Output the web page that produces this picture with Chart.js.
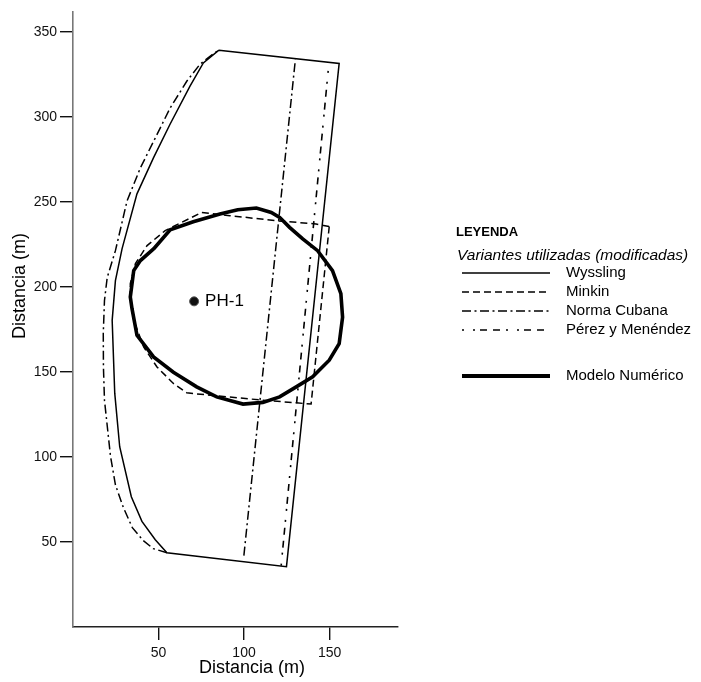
<!DOCTYPE html>
<html>
<head>
<meta charset="utf-8">
<script src="https://cdn.jsdelivr.net/npm/chart.js@4/dist/chart.umd.min.js"></script>
<style>
  html, body { margin: 0; padding: 0; background: #fff; }
  #wrap { width: 701px; height: 682px; position: relative; }
</style>
</head>
<body>
<div id="wrap"><canvas id="zonaChart"></canvas></div>
<script>
// Axis ticks
const xTicks = [50, 100, 150];
const yTicks = [50, 100, 150, 200, 250, 300, 350];

// Wyssling (closed zone)
const wysslingX = [85.3, 76.2, 68.4, 56.8, 47.1, 37.4, 28.7, 24.8, 22.9, 24.4, 27.3, 34.1, 40.3, 48.1, 54.9, 124.8, 155.6, 85.3];
const wysslingY = [339.2, 331.7, 318.1, 295.8, 276.0, 254.7, 222.5, 203.7, 180.3, 137.5, 106.0, 76.6, 62.1, 51.3, 43.7, 35.5, 331.4, 339.2];

// Minkin
const minkinX = [149.8, 139.2, 130.5, 111.0, 84.0, 66.5, 58.7, 49.1, 41.3, 35.5, 33.5, 33.5, 36.5, 43.3, 53.9, 75.2, 91.7, 118.8, 142.1, 149.8];
const minkinY = [235.5, 131.1, 131.8, 133.4, 135.9, 137.7, 143.2, 152.9, 164.7, 180.3, 192.1, 202.0, 213.7, 224.3, 233.1, 243.8, 241.9, 238.9, 237.0, 235.5];

// Norma Cubana: east limit and west curve
const normaX = [99.9, 130.0];
const normaY = [42.0, 333.7];
const normaOesteX = [54.9, 46.9, 41.1, 34.7, 29.5, 24.8, 21.9, 18.4, 17.8, 17.7, 18.4, 20.0, 24.8, 31.6, 39.4, 48.1, 56.8, 66.5, 74.2, 82.0, 84.7];
const normaOesteY = [43.7, 46.1, 50.8, 58.4, 70.1, 83.6, 100.6, 133.4, 152.7, 172.7, 192.0, 205.5, 221.3, 250.6, 270.0, 287.6, 305.2, 320.9, 330.9, 337.0, 338.9];

// Pérez y Menéndez
const perezX = [121.7, 149.2];
const perezY = [36.1, 327.3];

// Modelo Numérico
const modeloX = [47.1, 56.8, 70.3, 85.9, 96.3, 107.2, 115.9, 120.8, 126.6, 134.3, 143.0, 151.7, 156.6, 157.6, 155.6, 149.8, 140.1, 130.5, 120.8, 111.0, 99.4, 84.0, 72.3, 58.7, 47.1, 37.4, 34.5, 33.5, 35.5, 39.4, 47.1];
const modeloY = [222.3, 233.6, 238.3, 242.9, 245.4, 246.4, 243.8, 240.9, 235.0, 228.2, 221.3, 209.6, 196.0, 182.2, 166.6, 156.9, 147.1, 141.2, 135.3, 132.1, 131.1, 135.3, 141.2, 149.8, 158.8, 171.5, 187.2, 194.0, 209.6, 215.5, 222.3];

// Pozo
const pozoX = [70.8];
const pozoY = [191.5];
const pozoLabel = 'PH-1';

const legendItems = [
    { label: 'Wyssling', width: 1.5, dash: [] },
    { label: 'Minkin', width: 1.5, dash: [7, 4] },
    { label: 'Norma Cubana', width: 1.5, dash: [9, 3.5, 2, 3.5] },
    { label: 'Pérez y Menéndez', width: 1.5, dash: [2, 9, 2, 5, 7, 6, 7, 6] },
    { label: 'Modelo Numérico', width: 3.8, dash: [] }
];

const ink = '#000';

function toPoints(xs, ys) {
    return xs.map((x, i) => ({ x: x, y: ys[i] }));
}

function lineSet(label, xs, ys, width, dash) {
    return {
        label: label,
        data: toPoints(xs, ys),
        showLine: true,
        borderColor: ink,
        borderWidth: width,
        borderDash: dash,
        pointRadius: 0,
        tension: 0,
        fill: false
    };
}

// titles, well label and the legend box
const extrasPlugin = {
    id: 'extras',
    afterDraw(chart) {
        const ctx = chart.ctx;
        const xs = chart.scales.x;
        const ys = chart.scales.y;
        ctx.save();
        ctx.fillStyle = ink;

        // axis titles
        ctx.font = '18px Arial, "Liberation Sans", sans-serif';
        ctx.textAlign = 'center';
        ctx.textBaseline = 'middle';
        ctx.fillText('Distancia (m)', 252, 668);
        ctx.save();
        ctx.translate(20, 286);
        ctx.rotate(-Math.PI / 2);
        ctx.fillText('Distancia (m)', 0, 0);
        ctx.restore();

        // well label
        ctx.font = '17px Arial, "Liberation Sans", sans-serif';
        ctx.textAlign = 'left';
        ctx.fillText(pozoLabel, xs.getPixelForValue(pozoX[0]) + 11, ys.getPixelForValue(pozoY[0]));

        // legend
        ctx.font = 'bold 13px Arial, "Liberation Sans", sans-serif';
        ctx.fillText('LEYENDA', 456, 232);
        ctx.font = 'italic 15.5px Arial, "Liberation Sans", sans-serif';
        ctx.fillText('Variantes utilizadas (modificadas)', 457, 256);

        const rows = [273, 292, 311, 330, 376];
        ctx.font = '15px Arial, "Liberation Sans", sans-serif';
        legendItems.forEach((item, i) => {
            const y = rows[i];
            ctx.beginPath();
            ctx.strokeStyle = ink;
            ctx.lineWidth = item.width;
            ctx.setLineDash(item.dash);
            ctx.moveTo(462, y);
            ctx.lineTo(550, y);
            ctx.stroke();
            ctx.setLineDash([]);
            ctx.fillText(item.label, 566, y);
        });
        ctx.restore();
    }
};

const ctx = document.getElementById('zonaChart').getContext('2d');
const zonaChart = new Chart(ctx, {
    type: 'scatter',
    data: {
        datasets: [
            lineSet('Wyssling', wysslingX, wysslingY, 1.5, []),
            lineSet('Minkin', minkinX, minkinY, 1.5, legendItems[1].dash),
            lineSet('Norma Cubana', normaX, normaY, 1.5, legendItems[2].dash),
            lineSet('Norma Cubana (oeste)', normaOesteX, normaOesteY, 1.5, legendItems[2].dash),
            lineSet('Pérez y Menéndez', perezX, perezY, 1.6, legendItems[3].dash),
            lineSet('Modelo Numérico', modeloX, modeloY, 3.6, []),
            {
                label: pozoLabel,
                data: toPoints(pozoX, pozoY),
                pointRadius: 4.5,
                pointBackgroundColor: '#111',
                pointBorderColor: '#555',
                pointBorderWidth: 1,
                showLine: false
            }
        ]
    },
    options: {
        responsive: true,
        maintainAspectRatio: false,
        animation: false,
        layout: { padding: { top: 10, right: 303, left: 0, bottom: 0 } },
        plugins: {
            legend: { display: false },
            tooltip: { enabled: false }
        },
        scales: {
            x: {
                type: 'linear',
                min: 0,
                max: 190,
                afterBuildTicks: axis => { axis.ticks = xTicks.map(v => ({ value: v })); },
                afterFit: axis => { axis.height = 55; },
                grid: { drawOnChartArea: false, drawTicks: true, tickLength: 13, tickColor: '#111', lineWidth: 1.4 },
                border: { display: true, color: '#222', width: 1.4 },
                ticks: { color: '#111', padding: 5, font: { family: 'Arial, "Liberation Sans", sans-serif', size: 14 } }
            },
            y: {
                type: 'linear',
                min: 0,
                max: 362,
                afterBuildTicks: axis => { axis.ticks = yTicks.map(v => ({ value: v })); },
                afterFit: axis => { axis.width = 73; },
                grid: { drawOnChartArea: false, drawTicks: true, tickLength: 13, tickColor: '#111', lineWidth: 1.4 },
                border: { display: true, color: '#777', width: 1.6 },
                ticks: { color: '#111', padding: 3, font: { family: 'Arial, "Liberation Sans", sans-serif', size: 14 } }
            }
        }
    },
    plugins: [extrasPlugin]
});
</script>
</body>
</html>
